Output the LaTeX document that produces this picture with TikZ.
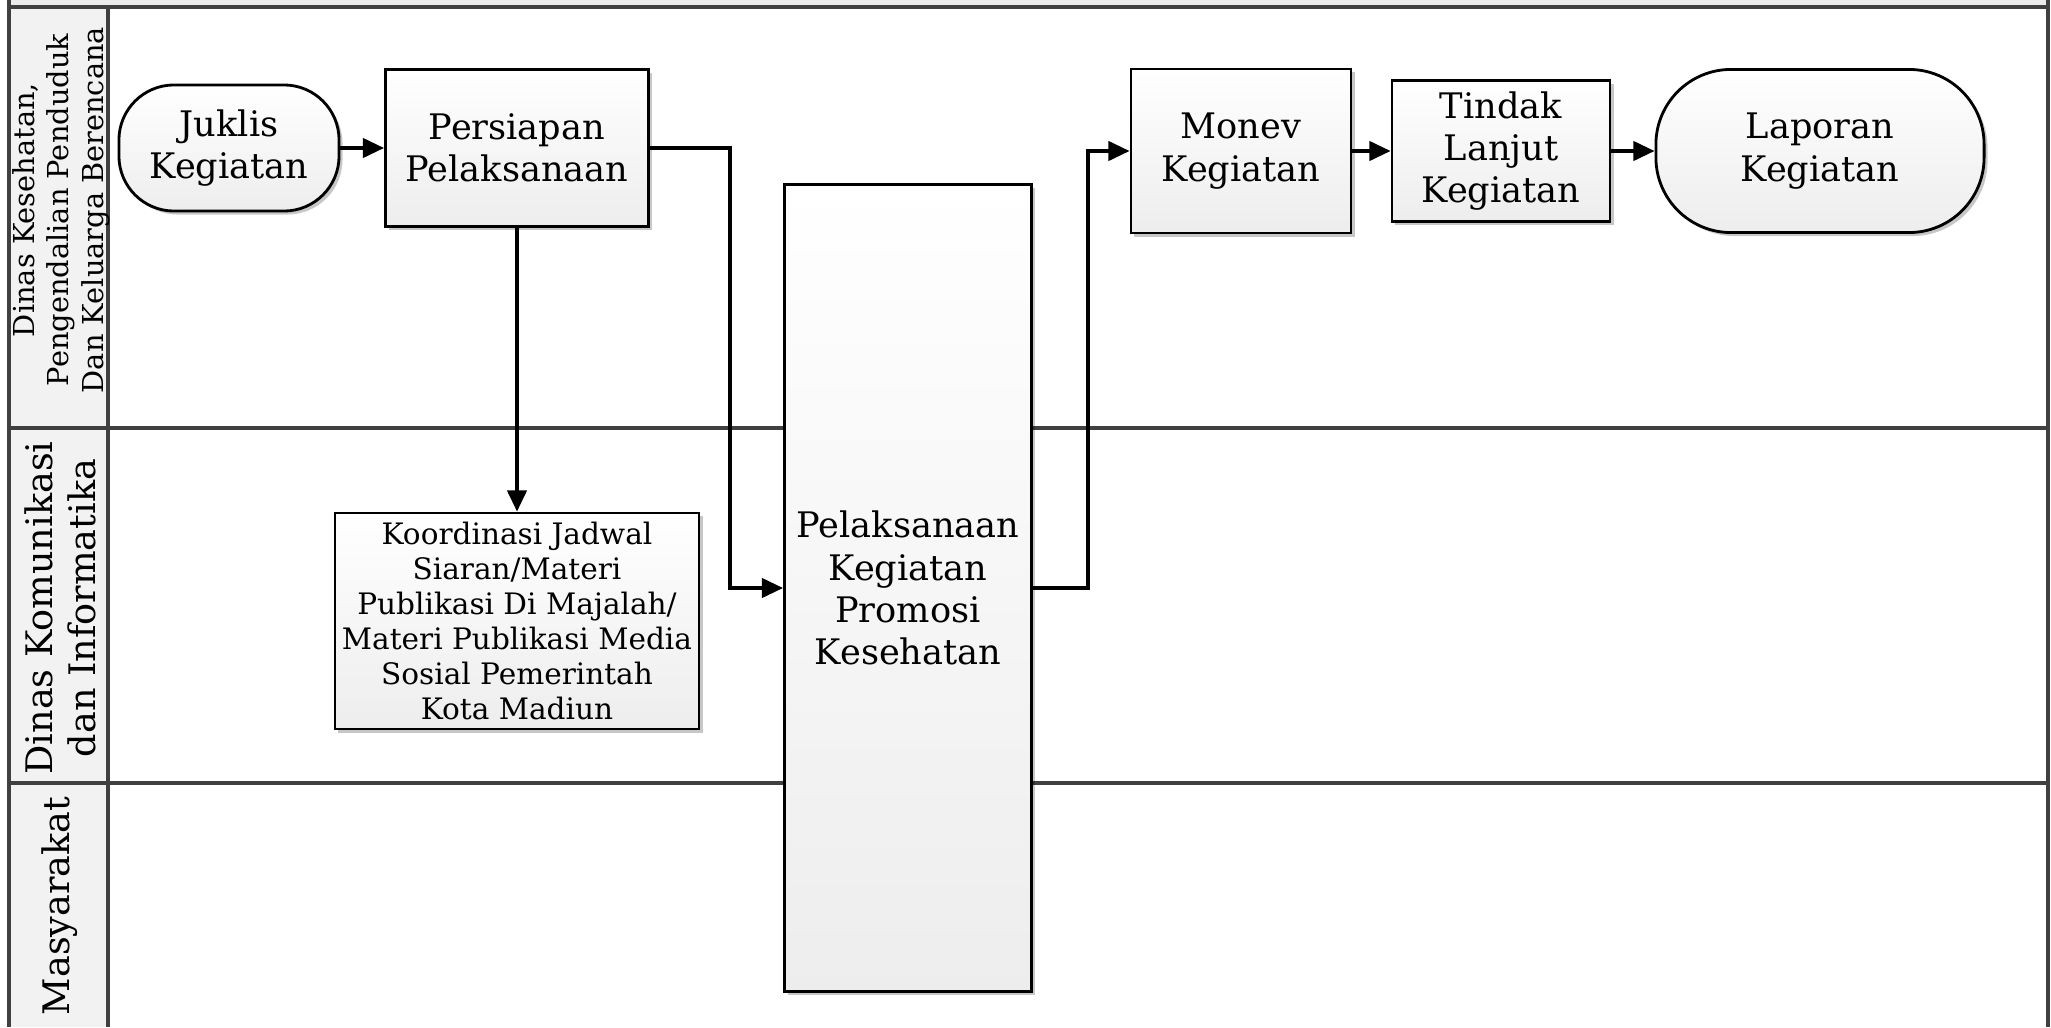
\documentclass[tikz,border=0pt]{standalone}
\usepackage{fontspec}
\setmainfont{DejaVu Serif}
\usetikzlibrary{arrows.meta,shadows}

\begin{document}
\begin{tikzpicture}[
    x=0.01cm, y=-0.01cm,
    every node/.style={font=\fontsize{10}{12}\selectfont},
    lane/.style={draw=black!75, line width=1.1pt},
    laneHead/.style={rotate=90, align=center, font=\fontsize{10.4}{12.2}\selectfont},
    proc/.style={draw=black, line width=0.8pt, top color=white, bottom color=black!7,
                 drop shadow={shadow xshift=0.035cm, shadow yshift=-0.035cm, fill=black, opacity=0.22},
                 align=center, inner sep=2pt},
    term/.style={proc, rounded corners=0.55cm},
    flow/.style={-{Triangle[length=6pt,width=5.5pt]}, line width=0.9pt},
]
\useasboundingbox (0,0) rectangle (2051,1027);

% Pool header strip and lane head column
\fill[black!8] (9,0) rectangle (2048,7);
\fill[black!5] (9,7) rectangle (108,1027);

% Swimlanes
\draw[lane] (9,7) -- (2048,7);
\draw[lane] (9,428) -- (2048,428);
\draw[lane] (9,783) -- (2048,783);
\draw[lane] (9,0) -- (9,1027);
\draw[lane] (108,7) -- (108,1027);
\draw[lane] (2048,0) -- (2048,1027);

% Lane titles
\node[laneHead, font=\fontsize{8.2}{9.8}\selectfont] (ln_dinkes) at (61,210)
    {Dinas Kesehatan,\\Pengendalian Penduduk\\Dan Keluarga Berencana};
\node[laneHead] (ln_kominfo) at (60,608) {Dinas Komunikasi\\dan Informatika};
\node[laneHead] (ln_masy) at (60,906) {Masyarakat};

% Activities
\node[term, minimum width=2.2cm, minimum height=1.26cm] (juklis) at (229,148) {Juklis\\Kegiatan};
\node[proc, minimum width=2.63cm, minimum height=1.57cm] (persiapan) at (517,148) {Persiapan\\Pelaksanaan};
\node[proc, minimum width=3.61cm, minimum height=2.16cm, font=\fontsize{8.4}{9.9}\selectfont] (koordinasi) at (517,621)
    {Koordinasi Jadwal\\Siaran/Materi\\Publikasi Di Majalah/\\Materi Publikasi Media\\Sosial Pemerintah\\Kota Madiun};
\node[proc, minimum width=2.47cm, minimum height=8.07cm] (pelaksanaan) at (908,588)
    {Pelaksanaan\\Kegiatan\\Promosi\\Kesehatan};
\node[proc, minimum width=2.2cm, minimum height=1.64cm] (monev) at (1241,151) {Monev\\Kegiatan};
\node[proc, minimum width=2.18cm, minimum height=1.41cm] (tindak) at (1501,151) {Tindak\\Lanjut\\Kegiatan};
\node[term, rounded corners=0.75cm, minimum width=3.28cm, minimum height=1.63cm] (laporan) at (1820,151) {Laporan\\Kegiatan};

% Flow
\draw[flow] (juklis.east) -- (persiapan.west);
\draw[flow] (persiapan.south) -- (persiapan.south |- koordinasi.north);
\draw[flow] (persiapan.east) -- ++(80,0) |- (pelaksanaan.west);
\draw[flow] (pelaksanaan.east) -- ++(55,0) |- (monev.west);
\draw[flow] (monev.east) -- (tindak.west);
\draw[flow] (tindak.east) -- (laporan.west);

\end{tikzpicture}
\end{document}
